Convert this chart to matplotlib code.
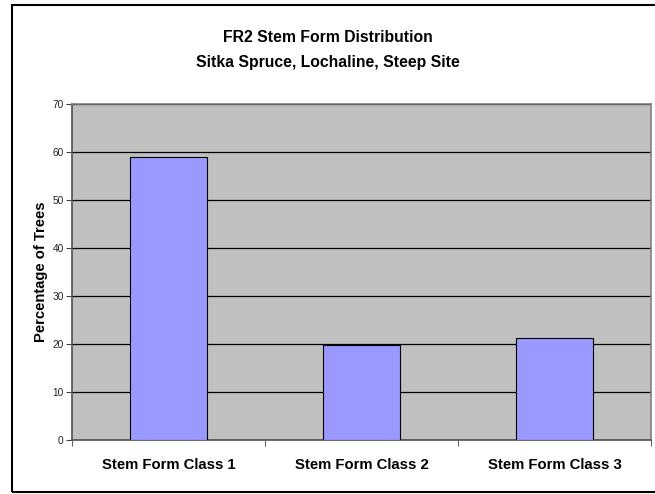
import matplotlib.pyplot as plt
from matplotlib.patches import Rectangle

categories = ["Stem Form Class 1", "Stem Form Class 2", "Stem Form Class 3"]
percent = [58.9, 19.7, 21.3]
yticks = [0, 10, 20, 30, 40, 50, 60, 70]

plt.rcParams['font.family'] = ['Liberation Sans', 'DejaVu Sans']

fig = plt.figure(figsize=(6.55, 4.94), dpi=100)

# outer chart border
fig.patches.append(Rectangle((12 / 655, 2 / 494), 1.2, 487 / 494, transform=fig.transFigure,
                             fill=False, edgecolor='black', linewidth=1.5))

ax = fig.add_axes([72 / 655, 54 / 494, 579 / 655, 336 / 494])
ax.set_facecolor('#C0C0C0')
x = range(len(categories))
ax.bar(x, percent, width=0.4, color='#9999FF', edgecolor='black', linewidth=0.8, zorder=3)

ax.set_xlim(-0.5, len(categories) - 0.5)
ax.set_ylim(0, 70)
ax.set_yticks(yticks)
ax.yaxis.grid(True, color='black', linewidth=0.9, zorder=1)
ax.set_axisbelow(True)

ax.set_xticks(list(x))
ax.set_xticklabels(categories, fontsize=10.7, fontweight='bold')
ax.tick_params(axis='x', length=0, pad=13)
ax.set_xticks([i - 0.5 for i in range(len(categories) + 1)], minor=True)
ax.tick_params(axis='x', which='minor', length=4, color='#404040')
ax.tick_params(axis='y', labelsize=7.3, length=4, pad=2, color='#404040', labelcolor='#222222')

for side in ['top', 'right']:
    ax.spines[side].set_color('#808080')
    ax.spines[side].set_linewidth(1.2)
for side in ['left', 'bottom']:
    ax.spines[side].set_color('#505050')
    ax.spines[side].set_linewidth(1.2)

ax.set_ylabel("Percentage of Trees", fontsize=10.6, fontweight='bold', labelpad=3)

fig.text(0.5, 1 - 37 / 494, "FR2 Stem Form Distribution", ha='center', va='center',
         fontsize=11.3, fontweight='bold')
fig.text(0.5, 1 - 62 / 494, "Sitka Spruce, Lochaline, Steep Site", ha='center', va='center',
         fontsize=11.3, fontweight='bold')

fig.savefig("out.png", dpi=100)
